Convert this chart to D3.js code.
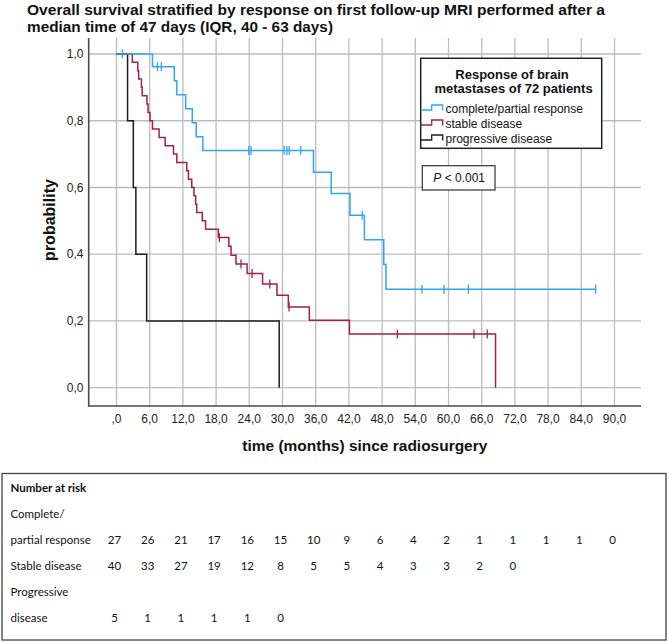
<!DOCTYPE html>
<html><head><meta charset="utf-8">
<script src="https://cdn.jsdelivr.net/npm/d3@7"></script>
<style>html,body{margin:0;padding:0;background:#fff;} svg{display:block}</style>
</head><body>
<svg id="c" width="669" height="642"></svg>
<script>
// ---------------- data ----------------
const titleLines = ["Overall survival stratified by response on first follow-up MRI performed after a",
                    "median time of 47 days (IQR, 40 - 63 days)"];
const timeTicks = [0,6,12,18,24,30,36,42,48,54,60,66,72,78,84,90];
const timeTickLabels = [",0","6,0","12,0","18,0","24,0","30,0","36,0","42,0","48,0","54,0","60,0","66,0","72,0","78,0","84,0","90,0"];
const probTicks = [0,0.2,0.4,0.6,0.8,1.0];
const probTickLabels = ["0,0","0,2","0,4","0,6","0,8","1,0"];
const groupNames = ["complete/partial response","stable disease","progressive disease"];
const groupColors = ["#2ea7f2","#a61f4c","#1c1c1c"];

// complete/partial response (n=27)
const crTimes = [0,6.5,10.45,10.9,12.5,13.7,14.4,15.6,35.6,38.8,42.2,44.8,48.3,48.7];
const crSurv  = [1,0.962,0.920,0.878,0.836,0.794,0.752,0.711,0.646,0.582,0.517,0.443,0.369,0.295];
const crCensor = [1.05,7.4,8.1,23.9,24.3,30.3,30.8,31.2,33.3,44.4,55.2,59.2,63.6,86.6];
const crEnd = 86.6;

// stable disease (n=40)
const sdTimes = [0,2.86,3.85,4.0,4.5,4.65,5.5,5.7,6.05,6.5,7.7,8.8,10.3,10.9,12.7,13.0,13.6,14.0,14.3,14.5,15.5,16.1,18.4,20.3,20.7,21.6,23.6,26.4,29.0,31.05,34.85,42.1,68.5];
const sdSurv  = [1,0.975,0.95,0.925,0.9,0.875,0.85,0.825,0.8,0.775,0.75,0.725,0.7,0.675,0.65,0.625,0.6,0.575,0.55,0.525,0.5,0.475,0.45,0.424,0.397,0.371,0.342,0.311,0.277,0.242,0.202,0.161,0];
const sdCensor = [18.6,22.5,24.5,27.7,31.2,50.75,64.6,67.0];
const sdEnd = 68.5;

// progressive disease (n=5)
const pdTimes = [0,2.0,3.04,3.5,5.45,29.4];
const pdSurv  = [1,0.8,0.6,0.4,0.2,0];
const pdCensor = [];
const pdEnd = 29.4;

// number at risk
const riskHeader = "Number at risk";
const riskLabels = ["Complete/","partial response","Stable disease","Progressive","disease"];
const riskCR = [27,26,21,17,16,15,10,9,6,4,2,1,1,1,1,0];
const riskSD = [40,33,27,19,12,8,5,5,4,3,3,2,0];
const riskPD = [5,1,1,1,1,0];

// ---------------- drawing ----------------
const svg = d3.select("#c");
const FONT = "'Liberation Sans', Arial, sans-serif";

const plotL = 88.7, plotR = 641, plotT = 38, plotB = 406;
const x = d3.scaleLinear().domain([0,90]).range([116.5,614.5]);
const y = d3.scaleLinear().domain([0,1]).range([387.7,54]);

// title
svg.selectAll("text.title").data(titleLines).join("text")
  .attr("class","title")
  .attr("x",27).attr("y",(d,i)=>15+i*17)
  .attr("font-family",FONT).attr("font-weight","bold").attr("font-size",15.5)
  .attr("textLength",(d,i)=> i===0?578:306).attr("lengthAdjust","spacingAndGlyphs")
  .attr("fill","#111").text(d=>d);

// grid
const grid = svg.append("g");
grid.selectAll("line.h").data(probTicks).join("line")
  .attr("x1",plotL).attr("x2",plotR).attr("y1",d=>y(d)).attr("y2",d=>y(d))
  .attr("stroke","#bcbcbc").attr("stroke-width",1.3);
grid.selectAll("line.v").data(timeTicks).join("line")
  .attr("y1",plotT).attr("y2",plotB).attr("x1",d=>x(d)).attr("x2",d=>x(d))
  .attr("stroke","#bcbcbc").attr("stroke-width",1.3);

// axes lines
svg.append("line").attr("x1",plotL).attr("x2",plotL).attr("y1",plotT).attr("y2",plotB+0.7)
  .attr("stroke","#4a4a4a").attr("stroke-width",1.6);
svg.append("line").attr("x1",plotL).attr("x2",plotR).attr("y1",plotB).attr("y2",plotB)
  .attr("stroke","#4a4a4a").attr("stroke-width",1.6);

// tick labels
svg.selectAll("text.xt").data(timeTicks).join("text")
  .attr("x",d=>x(d)).attr("y",422.5).attr("text-anchor","middle")
  .attr("font-family",FONT).attr("font-size",12).attr("fill","#222")
  .text((d,i)=>timeTickLabels[i]);
svg.selectAll("text.yt").data(probTicks).join("text")
  .attr("x",83.5).attr("y",d=>y(d)+4.2).attr("text-anchor","end")
  .attr("font-family",FONT).attr("font-size",12).attr("fill","#222")
  .text((d,i)=>probTickLabels[i]);

// axis titles
svg.append("text").attr("transform","translate(54.5,220) rotate(-90)")
  .attr("text-anchor","middle").attr("font-family",FONT).attr("font-weight","bold")
  .attr("font-size",16).attr("fill","#111").text("probability");
svg.append("text").attr("x",(plotL+plotR)/2).attr("y",451)
  .attr("text-anchor","middle").attr("font-family",FONT).attr("font-weight","bold")
  .attr("font-size",15.5).attr("textLength",245).attr("lengthAdjust","spacingAndGlyphs")
  .attr("fill","#111").text("time (months) since radiosurgery");

// curves
const series = [
  {times:pdTimes, surv:pdSurv, cens:pdCensor, end:pdEnd, color:groupColors[2]},
  {times:sdTimes, surv:sdSurv, cens:sdCensor, end:sdEnd, color:groupColors[1]},
  {times:crTimes, surv:crSurv, cens:crCensor, end:crEnd, color:groupColors[0]}
];
const line = d3.line().x(d=>x(d[0])).y(d=>y(d[1])).curve(d3.curveStepAfter);
series.forEach(s=>{
  const pts = s.times.map((t,i)=>[t,s.surv[i]]);
  if (s.end > s.times[s.times.length-1]) pts.push([s.end, s.surv[s.surv.length-1]]);
  svg.append("path").attr("d",line(pts)).attr("fill","none")
    .attr("stroke",s.color).attr("stroke-width",1.5);
  const sv = c => s.surv[d3.bisectRight(s.times,c)-1];
  svg.append("g").selectAll("line").data(s.cens).join("line")
    .attr("x1",d=>x(d)).attr("x2",d=>x(d))
    .attr("y1",d=>y(sv(d))-4.5).attr("y2",d=>y(sv(d))+4.5)
    .attr("stroke",s.color).attr("stroke-width",1.3);
});

// legend
const lg = svg.append("g");
lg.append("rect").attr("x",420.7).attr("y",58.3).attr("width",181).attr("height",90)
  .attr("fill","#fff").attr("stroke","#222").attr("stroke-width",1.5);
lg.append("text").attr("x",512).attr("y",78.5).attr("text-anchor","middle")
  .attr("font-family",FONT).attr("font-weight","bold").attr("font-size",13).attr("fill","#111")
  .text("Response of brain");
lg.append("text").attr("x",513.5).attr("y",92.5).attr("text-anchor","middle")
  .attr("font-family",FONT).attr("font-weight","bold").attr("font-size",13).attr("fill","#111")
  .text("metastases of 72 patients");
const sym = d3.line();
groupNames.forEach((g,i)=>{
  const yb = 112.5 + i*15;
  lg.append("path").attr("d",sym([[420.7,yb-2.5],[431.7,yb-2.5],[431.7,yb-7.5],[442.7,yb-7.5],[442.7,yb-2]]))
    .attr("fill","none").attr("stroke",groupColors[i]).attr("stroke-width",1.3);
  lg.append("text").attr("x",445.5).attr("y",yb).attr("font-family",FONT).attr("font-size",12)
    .attr("fill","#111").text(g);
});

// p-value box
const pg = svg.append("g");
pg.append("rect").attr("x",422.3).attr("y",165.7).attr("width",72.7).attr("height",24.3)
  .attr("fill","#fff").attr("stroke","#333").attr("stroke-width",1.2);
const pt = pg.append("text").attr("x",433.3).attr("y",182.3).attr("font-family",FONT)
  .attr("font-size",12).attr("fill","#111");
pt.append("tspan").attr("font-style","italic").text("P");
pt.append("tspan").text(" < 0.001");

// number at risk table
const TF = "Lato, 'Open Sans', sans-serif";
const tb = svg.append("g");
tb.append("rect").attr("x",2).attr("y",473.5).attr("width",664).attr("height",166.5)
  .attr("fill","none").attr("stroke","#444").attr("stroke-width",1.3);
const rowY = [492, 518, 544, 570, 596, 622];
tb.append("text").attr("x",10.5).attr("y",rowY[0]).attr("font-family",TF).attr("font-weight","bold")
  .attr("font-size",11.5).attr("fill","#111").text(riskHeader);
tb.selectAll("text.rl").data(riskLabels).join("text")
  .attr("x",10.5).attr("y",(d,i)=>rowY[i+1]).attr("font-family",TF).attr("font-size",11.5)
  .attr("fill","#111").text(d=>d);
[[riskCR,rowY[2]],[riskSD,rowY[3]],[riskPD,rowY[5]]].forEach(([arr,yy])=>{
  tb.append("g").selectAll("text").data(arr).join("text")
    .attr("x",(d,i)=>x(timeTicks[i])-2).attr("y",yy).attr("text-anchor","middle")
    .attr("font-family",TF).attr("font-size",11.5).attr("fill","#111").text(d=>d);
});
</script>
</body></html>
